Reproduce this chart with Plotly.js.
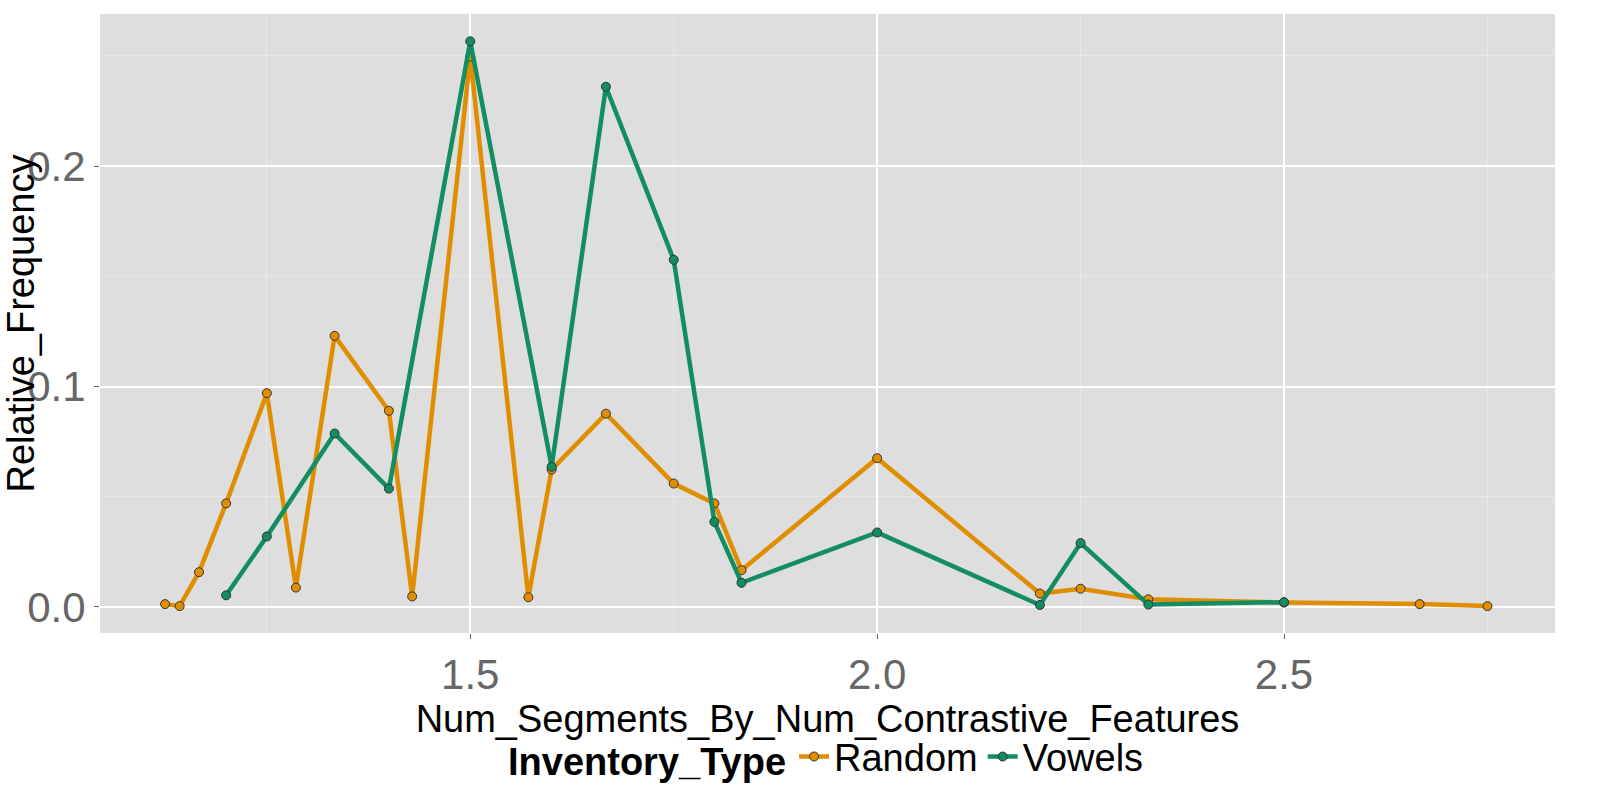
<!DOCTYPE html>
<html>
<head>
<meta charset="utf-8">
<script src="https://cdn.plot.ly/plotly-3.0.1.min.js"></script>
<style>body{margin:0}#chart{width:1600px;height:800px}</style>
</head>
<body>
<div id="chart"></div>
<script>
var randomX = [1.125, 1.1429, 1.1667, 1.2, 1.25, 1.2857, 1.3333, 1.4, 1.4286, 1.5, 1.5714, 1.6, 1.6667, 1.75, 1.8, 1.8333, 2.0, 2.2, 2.25, 2.3333, 2.5, 2.6667, 2.75];
var randomY = [0.0013, 0.0004, 0.0158, 0.047, 0.097, 0.0088, 0.123, 0.089, 0.0048, 0.2496, 0.0044, 0.0623, 0.0877, 0.056, 0.047, 0.0167, 0.0675, 0.0061, 0.0083, 0.0035, 0.002, 0.0013, 0.0004];
var vowelsX = [1.2, 1.25, 1.3333, 1.4, 1.5, 1.6, 1.6667, 1.75, 1.8, 1.8333, 2.0, 2.2, 2.25, 2.3333, 2.5];
var vowelsY = [0.0053, 0.032, 0.0787, 0.0537, 0.2566, 0.0636, 0.236, 0.1575, 0.0386, 0.011, 0.0338, 0.0009, 0.029, 0.0011, 0.0022];

var font = '"Liberation Sans Narrow", "Liberation Sans", Arial, sans-serif';

function series(name, x, y, color) {
  return {
    x: x, y: y, name: name, type: "scatter", mode: "lines+markers",
    line: {color: color, width: 4.5},
    marker: {color: color, size: 9, line: {color: "#333", width: 1}}
  };
}

var data = [
  series("Random", randomX, randomY, "#e08e00"),
  series("Vowels", vowelsX, vowelsY, "#138d62")
];

var layout = {
  width: 1600, height: 800,
  paper_bgcolor: "white", plot_bgcolor: "#dedede",
  margin: {l: 100, r: 45, t: 14, b: 145},
  font: {family: font, color: "black"},
  showlegend: true,
  legend: {
    orientation: "h", x: 0.5, xanchor: "center", y: -0.2, yanchor: "middle",
    title: {text: "<b>Inventory_Type</b>", font: {size: 38}},
    font: {size: 38}, itemwidth: 30
  },
  xaxis: {
    range: [1.045, 2.833], tickvals: [1.5, 2.0, 2.5], ticktext: ["1.5", "2.0", "2.5"],
    tickfont: {size: 42, color: "#666"}, showgrid: true, gridcolor: "white", gridwidth: 1.5,
    zeroline: false, ticks: "outside", ticklen: 5, tickcolor: "#666",
    minor: {tickvals: [1.25, 1.75, 2.25, 2.75], showgrid: true, gridcolor: "#e8e8e8", gridwidth: 1},
    title: {text: "Num_Segments_By_Num_Contrastive_Features", font: {size: 38}, standoff: 0}
  },
  yaxis: {
    range: [-0.0118, 0.269], tickvals: [0, 0.1, 0.2], ticktext: ["0.0", "0.1", "0.2"],
    tickfont: {size: 42, color: "#666"}, showgrid: true, gridcolor: "white", gridwidth: 1.5,
    zeroline: false, ticks: "outside", ticklen: 5, tickcolor: "#666",
    minor: {tickvals: [0.05, 0.15, 0.25], showgrid: true, gridcolor: "#e8e8e8", gridwidth: 1},
    title: {text: "Relative_Frequency", font: {size: 38}, standoff: 4}
  }
};

Plotly.newPlot("chart", data, layout, {displayModeBar: false});
</script>
</body>
</html>
